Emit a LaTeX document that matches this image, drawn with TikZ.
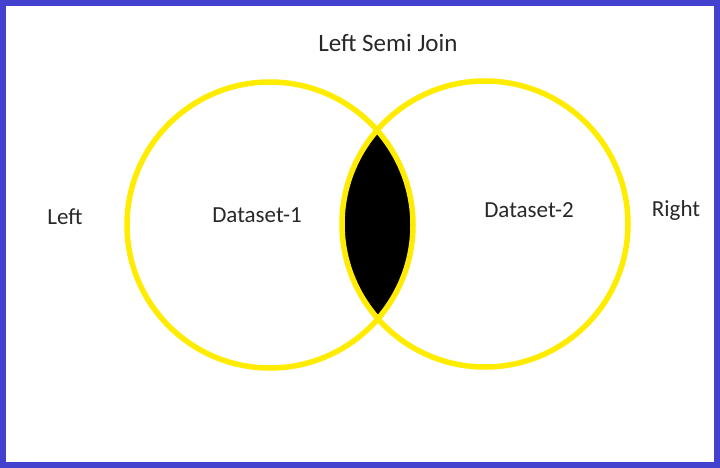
\documentclass[tikz,border=0pt]{standalone}
\usepackage{fontspec}
\setmainfont{Carlito}
\usepackage{xcolor}
\definecolor{Ring}{RGB}{255,236,0}
\definecolor{Frame}{RGB}{66,66,206}
\definecolor{Ink}{RGB}{40,40,40}
\tikzstyle{set} = [circle, draw=Ring, line width=5.5pt,
    minimum size=286pt, inner sep=0pt]
\tikzstyle{tag} = [text=Ink, font=\fontsize{23}{25}\selectfont]

\begin{document}
\begin{tikzpicture}[x=1pt, y=-1pt]
  \useasboundingbox (0,0) rectangle (720,468);
  \fill [white] (0,0) rectangle (720,468);
  \draw [Frame, line width=6pt] (3,3) rectangle (717,465);
  %
  \coordinate (C1) at (270,225);
  \coordinate (C2) at (485,224);
  %
  \begin{scope}
    \clip (C1) circle[radius=143pt];
    \fill [black] (C2) circle[radius=143pt];
  \end{scope}
  %
  \node [set] (Set1) at (C1) {};
  \node [set] (Set2) at (C2) {};
  %
  \node [tag, font=\fontsize{25}{27}\selectfont] (Title) at (388,43) {Left Semi Join};
  \node [tag] (Left) at (65,217) {Left};
  \node [tag] (Data1) at (257,215) {Dataset-1};
  \node [tag] (Data2) at (529,210) {Dataset-2};
  \node [tag] (Right) at (676,210) {Right};
\end{tikzpicture}
\end{document}
